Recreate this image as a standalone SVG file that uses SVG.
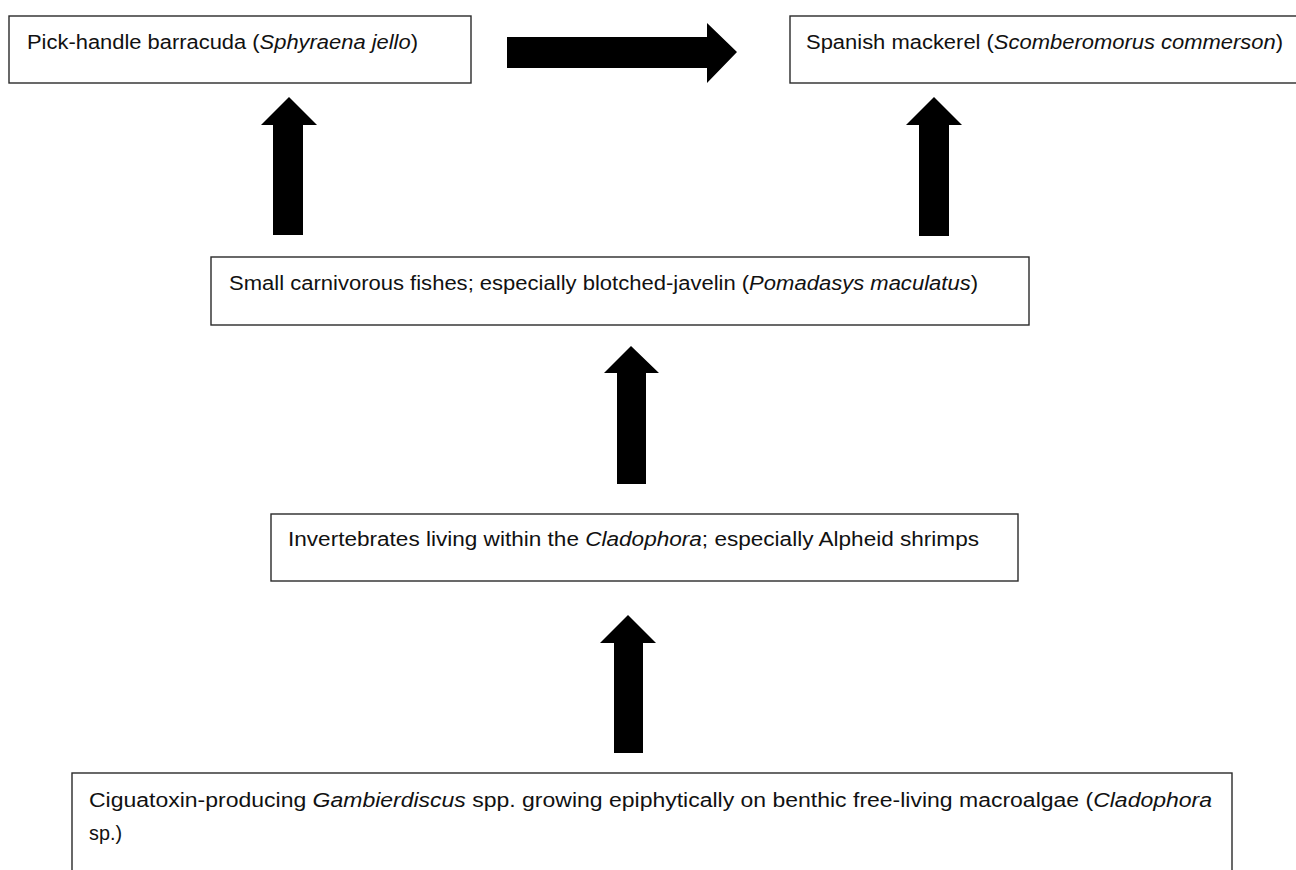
<svg xmlns="http://www.w3.org/2000/svg" width="1296" height="870" viewBox="0 0 1296 870">
<style>
.box{fill:#fff;stroke:#2a2a2a;stroke-width:1.4}
.t{font-family:"Liberation Sans",Arial,sans-serif;font-size:20px;fill:#111}
.i{font-style:italic}
.arr{fill:#000}
</style>
<rect width="1296" height="870" fill="#fff"/>
<g id="connectors">
<polygon class="arr" points="507,37 707,37 707,23 737,52 707,83 707,68 507,68"/>
<polygon class="arr" points="273,235 273,125 261,125 289,97 317,125 303,125 303,235"/>
<polygon class="arr" points="919,236 919,125 906,125 934,97 962,125 949,125 949,236"/>
<polygon class="arr" points="617,484 617,373 604,373 631,346 659,373 646,373 646,484"/>
<polygon class="arr" points="614,753 614,643 600,643 628,615 656,643 643,643 643,753"/>
</g>
<g id="barracuda">
<rect class="box" x="9" y="16" width="462" height="67"/>
<text class="t" x="27" y="49" textLength="391" lengthAdjust="spacingAndGlyphs">Pick-handle barracuda (<tspan class="i">Sphyraena jello</tspan>)</text>
</g>
<g id="mackerel">
<rect class="box" x="790" y="16" width="510" height="67"/>
<text class="t" x="806" y="49" textLength="477" lengthAdjust="spacingAndGlyphs">Spanish mackerel (<tspan class="i">Scomberomorus commerson</tspan>)</text>
</g>
<g id="fishes">
<rect class="box" x="211" y="257" width="818" height="68"/>
<text class="t" x="229" y="290" textLength="749" lengthAdjust="spacingAndGlyphs">Small carnivorous fishes; especially blotched-javelin (<tspan class="i">Pomadasys maculatus</tspan>)</text>
</g>
<g id="invertebrates">
<rect class="box" x="271" y="514" width="747" height="67"/>
<text class="t" x="288" y="546" textLength="691" lengthAdjust="spacingAndGlyphs">Invertebrates living within the <tspan class="i">Cladophora</tspan>; especially Alpheid shrimps</text>
</g>
<g id="gambierdiscus">
<rect class="box" x="72" y="773" width="1160" height="130"/>
<text class="t" x="89" y="807" textLength="1123" lengthAdjust="spacingAndGlyphs">Ciguatoxin-producing <tspan class="i">Gambierdiscus</tspan> spp. growing epiphytically on benthic free-living macroalgae (<tspan class="i">Cladophora</tspan></text>
<text class="t" x="89" y="840" textLength="33" lengthAdjust="spacingAndGlyphs">sp.)</text>
</g>
</svg>
